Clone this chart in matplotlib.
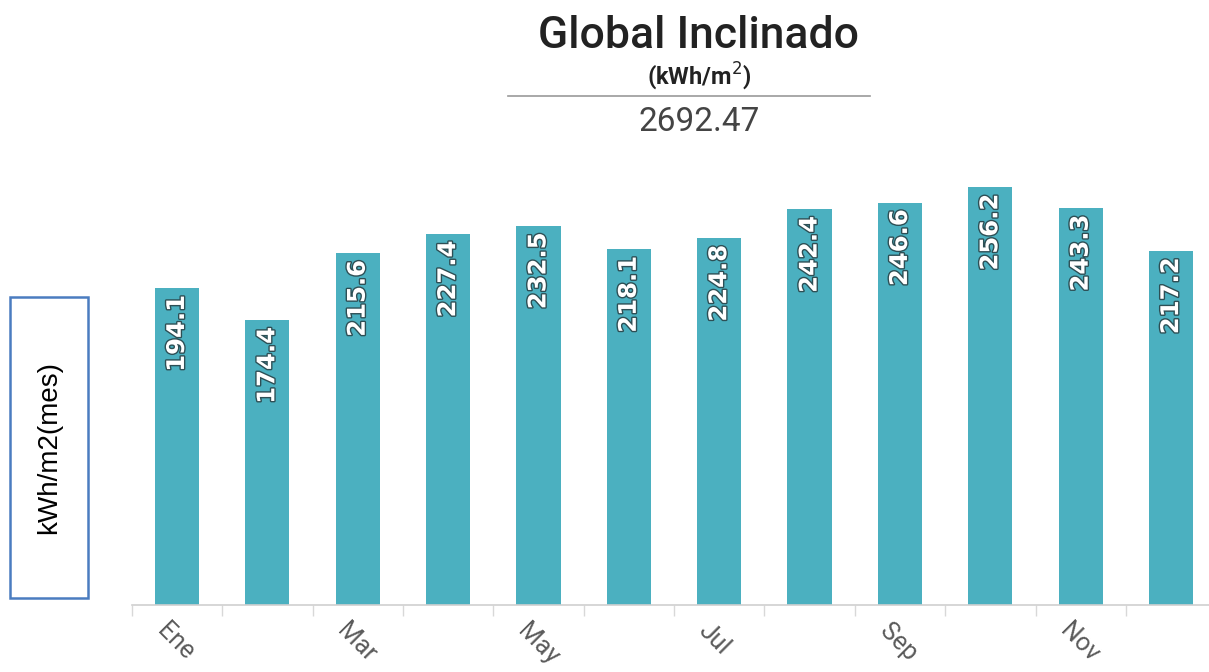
import matplotlib.pyplot as plt
import matplotlib.patheffects as pe
import matplotlib.transforms as mtransforms
from matplotlib.patches import Rectangle

months = ['Ene', 'Feb', 'Mar', 'Abr', 'May', 'Jun', 'Jul', 'Ago', 'Sep', 'Oct', 'Nov', 'Dic']
values = [194.1, 174.4, 215.6, 227.4, 232.5, 218.1, 224.8, 242.4, 246.6, 256.2, 243.3, 217.2]
total = 2692.47

bar_color = '#4bb0c0'

fig = plt.figure(figsize=(12.09, 6.72), dpi=100)
ax = fig.add_axes([0.109, 0.0997, 0.897, 0.680])

x = list(range(len(months)))
ax.bar(x, values, width=0.49, color=bar_color, zorder=2)

for xi, v in zip(x, values):
    ax.annotate(f'{v:.1f}', (xi, v), xytext=(0, -5), textcoords='offset points',
                ha='center', va='top', rotation=90, color='white',
                fontsize=17.5, fontweight='bold', family='DejaVu Sans',
                path_effects=[pe.Stroke(linewidth=2, foreground='#2d4f55'), pe.Normal()])

ax.set_xlim(-0.5, 11.5)
ax.set_ylim(0, 280)
for s in ['top', 'right', 'left']:
    ax.spines[s].set_visible(False)
ax.spines['bottom'].set_color('#d0d0d0')
ax.spines['bottom'].set_linewidth(1.2)
ax.set_yticks([])

# labels on every other month, ticks between categories
ax.set_xticks(x[::2])
ax.set_xticklabels(months[::2], rotation=-45, ha='left', rotation_mode='anchor',
                   fontsize=18, color='#5a5a5a', family='Roboto')
ax.tick_params(axis='x', which='major', length=0, pad=10)
shift = mtransforms.ScaledTranslation(-8 / 100, 0, fig.dpi_scale_trans)
for lbl in ax.get_xticklabels():
    lbl.set_transform(lbl.get_transform() + shift)
ax.set_xticks([i - 0.5 for i in range(len(months) + 1)], minor=True)
ax.tick_params(axis='x', which='minor', length=8, color='#d8d8d8', width=1)

# header
fig.text(0.578, 0.947, 'Global Inclinado', ha='center', va='center',
         fontsize=32, fontweight='medium', family='Roboto', color='#222222')
fig.text(0.578, 0.887, '(kWh/m$^2$)', ha='center', va='center',
         fontsize=17, fontweight='bold', family='Roboto', color='#222222')
fig.add_artist(plt.Line2D([0.42, 0.72], [0.857, 0.857], color='#999999', lw=1.2))
fig.text(0.578, 0.818, f'{total:.2f}', ha='center', va='center',
         fontsize=24, family='Roboto', color='#444444')

# boxed axis label
fig.add_artist(Rectangle((10 / 1209, 1 - 598 / 672), 78 / 1209, 301 / 672,
                         transform=fig.transFigure, fill=False,
                         edgecolor='#4a7cc0', lw=1.8))
fig.text(49 / 1209, 1 - 448 / 672, 'kWh/m2(mes)', rotation=90, ha='center',
         va='center', fontsize=20, family='Liberation Sans', color='black')

fig.savefig('out.png', dpi=100)
